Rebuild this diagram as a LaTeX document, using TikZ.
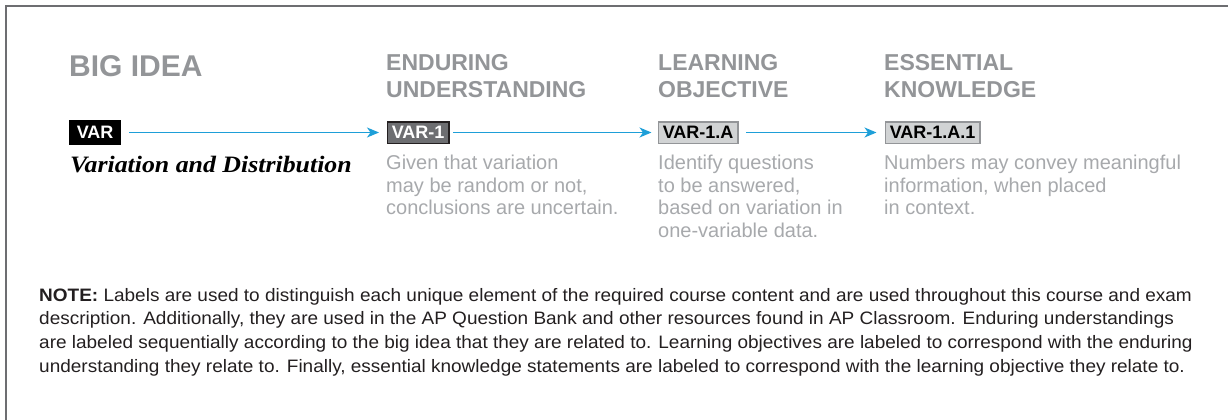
\documentclass[tikz,border=0pt]{standalone}
\usepackage{fontspec}
\setmainfont{Liberation Sans}
\newfontfamily\serifface{Liberation Serif}[FakeStretch=1.1]
\newfontfamily\notefont{Liberation Sans}[FakeStretch=1.055]
\usetikzlibrary{arrows.meta}
\definecolor{hdgray}{HTML}{939598}
\definecolor{descgray}{HTML}{A7A9AC}
\definecolor{arrblue}{HTML}{1E9FD8}
\definecolor{darkfill}{HTML}{6D6E71}
\definecolor{lightfill}{HTML}{D1D3D4}
\definecolor{notetext}{HTML}{231F20}
\definecolor{framegray}{HTML}{6D6E71}
\begin{document}
\begin{tikzpicture}[x=1pt,y=-1pt,
  frame/.style={draw=framegray,line width=1.5pt},
  bigidea/.style={anchor=base west,inner sep=0pt,text=hdgray,font=\fontsize{30}{36}\selectfont\bfseries},
  heading/.style={anchor=base west,inner sep=0pt,align=left,text=hdgray,font=\fontsize{23}{27}\selectfont\bfseries},
  boxlabel/.style={anchor=west,inner ysep=0pt,font=\fontsize{18}{20}\selectfont\bfseries,line width=1.5pt},
  blackbox/.style={boxlabel,fill=black,text=white,minimum height=25pt,inner xsep=8pt},
  darkbox/.style={boxlabel,fill=darkfill,draw=notetext,text=white,minimum height=21.5pt,inner xsep=4.5pt},
  lightbox/.style={boxlabel,fill=lightfill,draw=hdgray,text=black,minimum height=21.5pt,inner xsep=4.5pt},
  desc/.style={anchor=base west,inner sep=0pt,align=left,text=descgray,font=\fontsize{20}{22.5}\selectfont},
  arr/.style={draw=arrblue,line width=1.5pt,-{Stealth[length=12pt,width=10pt,inset=3.5pt]}},
  idea/.style={anchor=base west,inner sep=0pt,text=black,font=\fontsize{23.5}{26}\selectfont\serifface\bfseries\itshape},
  note/.style={anchor=base west,inner sep=0pt,align=left,text=notetext,font=\notefont\fontsize{18}{23.6}\selectfont}
]
\useasboundingbox (0,0) rectangle (1228,420);
\draw[frame] (6,421) -- (6,6) -- (1229,6);

% multi-line nodes: base anchor is the baseline of the last line
\node[bigidea] (bi) at (69,77) {BIG IDEA};
\node[heading] (euh) at (386,97) {ENDURING\\UNDERSTANDING};
\node[heading] (loh) at (658,97) {LEARNING\\OBJECTIVE};
\node[heading] (ekh) at (884,97) {ESSENTIAL\\KNOWLEDGE};

\node[blackbox] (var) at (68,132.5) {VAR};
\node[darkbox] (var1) at (386.5,132.5) {VAR-1};
\node[lightbox] (var1a) at (657.5,132.5) {VAR-1.A};
\node[lightbox] (var1a1) at (884.5,132.5) {VAR-1.A.1};

\draw[arr,shorten <=7pt,shorten >=7.5pt] (var) -- (var1);
\draw[arr,shorten <=3.5pt,shorten >=6pt] (var1) -- (var1a);
\draw[arr,shorten <=7.5pt,shorten >=8pt] (var1a) -- (var1a1);

\node[idea] (vd) at (70,172) {Variation and Distribution};
\node[desc] (eu) at (386,214.5) {Given that variation\\may be random or not,\\conclusions are uncertain.};
\node[desc] (lo) at (658,237) {Identify questions\\to be answered,\\based on variation in\\one-variable data.};
\node[desc] (ek) at (884,214.5) {Numbers may convey meaningful\\information, when placed\\in context.};

\node[note] (nt) at (39,372) {\textbf{NOTE:} Labels are used to distinguish each unique element of the required course content and are used throughout this course and exam\\
description. Additionally, they are used in the AP Question Bank and other resources found in AP Classroom. Enduring understandings\\
are labeled sequentially according to the big idea that they are related to. Learning objectives are labeled to correspond with the enduring\\
understanding they relate to. Finally, essential knowledge statements are labeled to correspond with the learning objective they relate to.};
\end{tikzpicture}
\end{document}
